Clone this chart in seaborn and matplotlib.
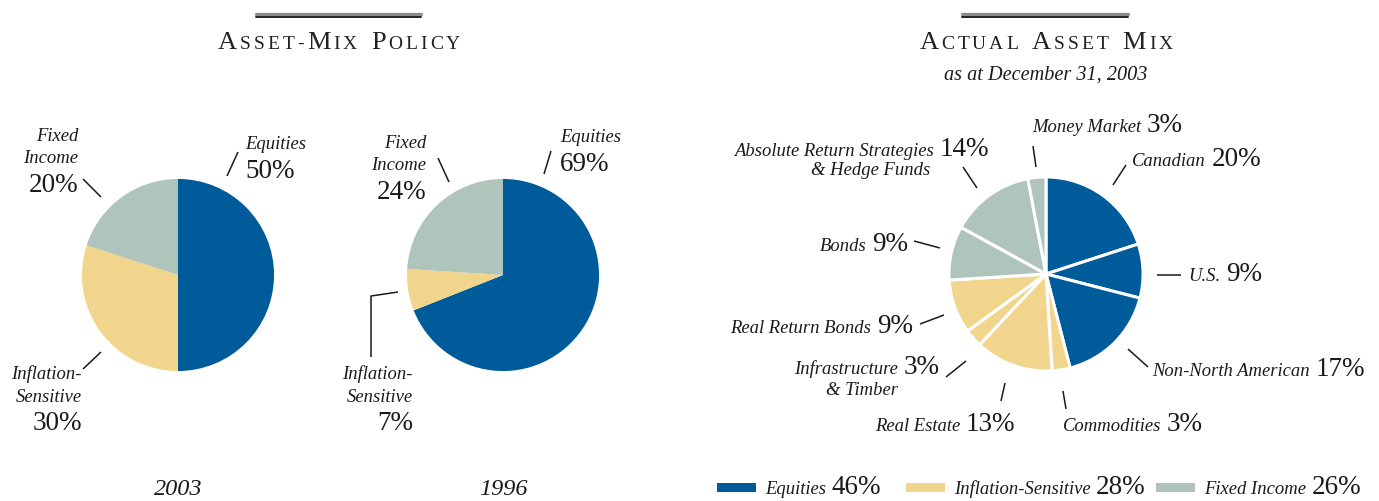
"""Asset-mix policy vs. actual asset mix pies."""
import matplotlib
matplotlib.use("Agg")
import matplotlib.pyplot as plt
import seaborn as sns
from matplotlib.offsetbox import TextArea, HPacker, VPacker, DrawingArea, AnnotationBbox
from matplotlib.patches import Rectangle

W, H = 1379, 502

# ---- data -------------------------------------------------------------
groups = ["Equities", "Inflation-Sensitive", "Fixed Income"]
policy_2003 = [50, 30, 20]
policy_1996 = [69, 7, 24]

mix_labels = ["Canadian", "U.S.", "Non-North American", "Commodities", "Real Estate",
              "Infrastructure", "Real Return Bonds", "Bonds",
              "Absolute Return Strategies", "Money Market"]
mix_values = [20, 9, 17, 3, 13, 3, 9, 9, 14, 3]
mix_group = [0, 0, 0, 1, 1, 1, 1, 2, 2, 2]
group_totals = [46, 28, 26]

sns.set_theme(style="white")
palette = sns.color_palette(["#005b9b", "#f2d58d", "#afc5bc"])
SERIF = ["Liberation Serif", "DejaVu Serif"]
INK = "#1a1a1a"

fig = plt.figure(figsize=(W / 100, H / 100), dpi=100)
fig.patch.set_facecolor("white")

# overlay axes in pixel coordinates for text and leader lines
bg = fig.add_axes([0, 0, 1, 1])
bg.set_xlim(0, W)
bg.set_ylim(H, 0)
bg.axis("off")
bg.patch.set_visible(False)


def pie_axes(cx, cy, r=97):
    ax = fig.add_axes([(cx - r) / W, 1 - (cy + r) / H, 2 * r / W, 2 * r / H])
    return ax


def draw_pie(ax, values, colors, edge=0):
    ax.pie(values, colors=colors, startangle=90, counterclock=False, radius=1,
           wedgeprops=dict(linewidth=edge, edgecolor="white"))
    ax.set_xlim(-1.01, 1.01)
    ax.set_ylim(-1.01, 1.01)
    ax.set_aspect("equal")
    ax.axis("off")


def part(text, kind):
    if kind == "num":
        props = dict(fontsize=19.5, family=SERIF, color=INK)
    else:
        props = dict(fontsize=13.4, family=SERIF, style="italic", color=INK)
    return TextArea(text, textprops=props)


def label(x, y, lines, ha="left", sep=4):
    rows = [HPacker(children=[part(t, k) for t, k in ln], align="baseline", pad=0, sep=4)
            for ln in lines]
    box = VPacker(children=rows, align="right" if ha == "right" else "left", pad=0, sep=sep)
    ab = AnnotationBbox(box, (x, y), xycoords="data", frameon=False, pad=0,
                        box_alignment=(1 if ha == "right" else 0, 0.5))
    bg.add_artist(ab)


def lead(*pts):
    xs, ys = zip(*pts)
    bg.plot(xs, ys, color=INK, lw=1.1, solid_capstyle="butt")


def smallcaps_title(cx, cy, text):
    kids = []
    for ch in text:
        if ch == " ":
            kids.append(DrawingArea(6, 1))
        elif ch.isupper():
            kids.append(TextArea(ch, textprops=dict(fontsize=19, family=SERIF, color="#222222")))
        else:
            kids.append(TextArea(ch.upper(), textprops=dict(fontsize=14, family=SERIF, color="#222222")))
    box = HPacker(children=kids, align="baseline", pad=0, sep=2.1)
    bg.add_artist(AnnotationBbox(box, (cx, cy), frameon=False, pad=0, box_alignment=(0.5, 0.5)))


def double_rule(x0, x1, y):
    bg.plot([x0, x1], [y, y], color="#8c8c8c", lw=2.4)
    bg.plot([x0, x1], [y + 3.2, y + 3.2], color="#222222", lw=1.4)


# ---- headers -------------------------------------------------------------
double_rule(256, 421, 15)
smallcaps_title(339, 43, "Asset-Mix Policy")
double_rule(962, 1128, 15)
smallcaps_title(1046, 43, "Actual Asset Mix")
bg.text(1046, 75, "as at December 31, 2003", ha="center", va="center", fontsize=14.6,
        style="italic", family=SERIF, color=INK)

# ---- policy pies ---------------------------------------------------------
ax1 = pie_axes(178, 276)
draw_pie(ax1, policy_2003, palette)
ax2 = pie_axes(503, 276)
draw_pie(ax2, policy_1996, palette)

label(78, 163, [[("Fixed", "lab")], [("Income", "lab")], [(f"{policy_2003[2]}%", "num")]], "right")
lead((83, 180), (101, 198))
label(245, 160, [[("Equities", "lab")], [(f"{policy_2003[0]}%", "num")]], "left")
lead((227, 177), (238, 153))
label(82, 401, [[("Inflation-", "lab")], [("Sensitive", "lab")], [(f"{policy_2003[1]}%", "num")]], "right")
lead((83, 370), (101, 353))

label(426, 170, [[("Fixed", "lab")], [("Income", "lab")], [(f"{policy_1996[2]}%", "num")]], "right")
lead((438, 159), (449, 183))
label(560, 153, [[("Equities", "lab")], [(f"{policy_1996[0]}%", "num")]], "left")
lead((544, 175), (551, 152))
label(413, 401, [[("Inflation-", "lab")], [("Sensitive", "lab")], [(f"{policy_1996[1]}%", "num")]], "right")
lead((371, 358), (371, 297), (398, 293))

bg.text(178, 490, "2003", ha="center", va="center", fontsize=17.5, style="italic", family=SERIF, color=INK)
bg.text(503, 490, "1996", ha="center", va="center", fontsize=17.5, style="italic", family=SERIF, color=INK)

# ---- actual asset mix pie --------------------------------------------------
ax3 = pie_axes(1046, 275, r=98)
draw_pie(ax3, mix_values, [palette[g] for g in mix_group], edge=2.2)


def mix(i):
    return [(mix_labels[i], "lab"), (f"{mix_values[i]}%", "num")]


label(1032, 125, [mix(9)], "left")
lead((1033, 147), (1036, 168))
label(989, 150, [mix(8)], "right")
label(930, 171, [[("& Hedge Funds", "lab")]], "right")
lead((963, 168), (977, 189))
label(1132, 160, [mix(0)], "left")
lead((1113, 186), (1126, 166))
label(908, 245, [mix(7)], "right")
lead((914, 242), (940, 249))
label(1188, 275, [mix(1)], "left")
lead((1157, 276), (1181, 276))
label(913, 327, [mix(6)], "right")
lead((920, 325), (944, 316))
label(940, 368, [mix(5)], "right")
label(898, 391, [[("& Timber", "lab")]], "right")
lead((946, 378), (966, 362))
label(1152, 370, [mix(2)], "left")
lead((1128, 350), (1148, 368))
label(1015, 425, [mix(4)], "right")
lead((1001, 402), (1005, 384))
label(1063, 425, [mix(3)], "left")
lead((1063, 392), (1066, 410))

# ---- legend ----------------------------------------------------------------
for x0, name, total, col in zip([717, 906, 1156], groups, group_totals, palette):
    bg.add_patch(Rectangle((x0, 484), 39, 9, color=col, lw=0))
    label(x0 + 48, 488, [[(name, "lab"), (f"{total}%", "num")]], "left")

fig.savefig("out.png", dpi=100, facecolor="white")
